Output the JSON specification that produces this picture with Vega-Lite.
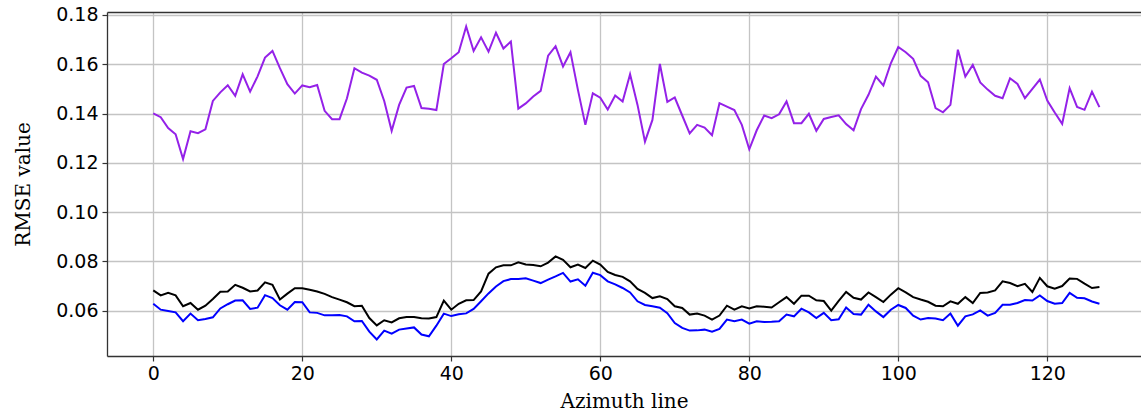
{
  "$schema": "https://vega.github.io/schema/vega-lite/v6.json",
  "width": 1034,
  "height": 344,
  "autosize": {"type": "none"},
  "padding": {"left": 107, "top": 12, "right": 0, "bottom": 59},
  "background": "white",
  "config": {"view": {"stroke": null}},
  "data": {"values": [
    {"azimuth":0,"purple":0.1401,"black":0.0682,"blue":0.0628},
    {"azimuth":1,"purple":0.1385,"black":0.0662,"blue":0.0604},
    {"azimuth":2,"purple":0.1341,"black":0.0672,"blue":0.0599},
    {"azimuth":3,"purple":0.1316,"black":0.0662,"blue":0.0593},
    {"azimuth":4,"purple":0.1215,"black":0.0618,"blue":0.0557},
    {"azimuth":5,"purple":0.1328,"black":0.0631,"blue":0.0588},
    {"azimuth":6,"purple":0.1320,"black":0.0604,"blue":0.0561},
    {"azimuth":7,"purple":0.1336,"black":0.0620,"blue":0.0566},
    {"azimuth":8,"purple":0.1451,"black":0.0647,"blue":0.0573},
    {"azimuth":9,"purple":0.1486,"black":0.0677,"blue":0.0609},
    {"azimuth":10,"purple":0.1515,"black":0.0678,"blue":0.0626},
    {"azimuth":11,"purple":0.1472,"black":0.0705,"blue":0.0641},
    {"azimuth":12,"purple":0.1559,"black":0.0693,"blue":0.0642},
    {"azimuth":13,"purple":0.1489,"black":0.0678,"blue":0.0607},
    {"azimuth":14,"purple":0.1551,"black":0.0682,"blue":0.0612},
    {"azimuth":15,"purple":0.1627,"black":0.0715,"blue":0.0663},
    {"azimuth":16,"purple":0.1654,"black":0.0705,"blue":0.0651},
    {"azimuth":17,"purple":0.1584,"black":0.0645,"blue":0.0622},
    {"azimuth":18,"purple":0.1519,"black":0.0669,"blue":0.0604},
    {"azimuth":19,"purple":0.1481,"black":0.0691,"blue":0.0635},
    {"azimuth":20,"purple":0.1514,"black":0.0691,"blue":0.0634},
    {"azimuth":21,"purple":0.1507,"black":0.0685,"blue":0.0593},
    {"azimuth":22,"purple":0.1516,"black":0.0678,"blue":0.0591},
    {"azimuth":23,"purple":0.1411,"black":0.0668,"blue":0.0581},
    {"azimuth":24,"purple":0.1377,"black":0.0655,"blue":0.0581},
    {"azimuth":25,"purple":0.1377,"black":0.0645,"blue":0.0582},
    {"azimuth":26,"purple":0.1462,"black":0.0634,"blue":0.0577},
    {"azimuth":27,"purple":0.1584,"black":0.0618,"blue":0.0557},
    {"azimuth":28,"purple":0.1566,"black":0.0620,"blue":0.0558},
    {"azimuth":29,"purple":0.1554,"black":0.0570,"blue":0.0515},
    {"azimuth":30,"purple":0.1537,"black":0.0540,"blue":0.0483},
    {"azimuth":31,"purple":0.1451,"black":0.0561,"blue":0.0519},
    {"azimuth":32,"purple":0.1330,"black":0.0552,"blue":0.0507},
    {"azimuth":33,"purple":0.1435,"black":0.0569,"blue":0.0523},
    {"azimuth":34,"purple":0.1505,"black":0.0574,"blue":0.0528},
    {"azimuth":35,"purple":0.1512,"black":0.0574,"blue":0.0532},
    {"azimuth":36,"purple":0.1422,"black":0.0569,"blue":0.0503},
    {"azimuth":37,"purple":0.1419,"black":0.0568,"blue":0.0496},
    {"azimuth":38,"purple":0.1414,"black":0.0574,"blue":0.0539},
    {"azimuth":39,"purple":0.1601,"black":0.0641,"blue":0.0588},
    {"azimuth":40,"purple":0.1624,"black":0.0604,"blue":0.0578},
    {"azimuth":41,"purple":0.1649,"black":0.0628,"blue":0.0585},
    {"azimuth":42,"purple":0.1753,"black":0.0642,"blue":0.0589},
    {"azimuth":43,"purple":0.1654,"black":0.0643,"blue":0.0607},
    {"azimuth":44,"purple":0.1709,"black":0.0678,"blue":0.0638},
    {"azimuth":45,"purple":0.1651,"black":0.0750,"blue":0.0670},
    {"azimuth":46,"purple":0.1728,"black":0.0776,"blue":0.0698},
    {"azimuth":47,"purple":0.1664,"black":0.0784,"blue":0.0720},
    {"azimuth":48,"purple":0.1692,"black":0.0784,"blue":0.0728},
    {"azimuth":49,"purple":0.1420,"black":0.0796,"blue":0.0728},
    {"azimuth":50,"purple":0.1441,"black":0.0787,"blue":0.0731},
    {"azimuth":51,"purple":0.1469,"black":0.0785,"blue":0.0722},
    {"azimuth":52,"purple":0.1492,"black":0.0780,"blue":0.0712},
    {"azimuth":53,"purple":0.1635,"black":0.0795,"blue":0.0726},
    {"azimuth":54,"purple":0.1673,"black":0.0820,"blue":0.0739},
    {"azimuth":55,"purple":0.1591,"black":0.0806,"blue":0.0753},
    {"azimuth":56,"purple":0.1649,"black":0.0776,"blue":0.0718},
    {"azimuth":57,"purple":0.1496,"black":0.0787,"blue":0.0727},
    {"azimuth":58,"purple":0.1354,"black":0.0773,"blue":0.0701},
    {"azimuth":59,"purple":0.1482,"black":0.0803,"blue":0.0754},
    {"azimuth":60,"purple":0.1464,"black":0.0787,"blue":0.0744},
    {"azimuth":61,"purple":0.1416,"black":0.0757,"blue":0.0719},
    {"azimuth":62,"purple":0.1473,"black":0.0745,"blue":0.0707},
    {"azimuth":63,"purple":0.1449,"black":0.0737,"blue":0.0692},
    {"azimuth":64,"purple":0.1559,"black":0.0719,"blue":0.0674},
    {"azimuth":65,"purple":0.1435,"black":0.0688,"blue":0.0638},
    {"azimuth":66,"purple":0.1286,"black":0.0672,"blue":0.0623},
    {"azimuth":67,"purple":0.1374,"black":0.0651,"blue":0.0618},
    {"azimuth":68,"purple":0.1601,"black":0.0658,"blue":0.0612},
    {"azimuth":69,"purple":0.1447,"black":0.0647,"blue":0.0590},
    {"azimuth":70,"purple":0.1465,"black":0.0618,"blue":0.0550},
    {"azimuth":71,"purple":0.1392,"black":0.0611,"blue":0.0530},
    {"azimuth":72,"purple":0.1319,"black":0.0584,"blue":0.0519},
    {"azimuth":73,"purple":0.1354,"black":0.0588,"blue":0.0520},
    {"azimuth":74,"purple":0.1343,"black":0.0580,"blue":0.0523},
    {"azimuth":75,"purple":0.1312,"black":0.0564,"blue":0.0515},
    {"azimuth":76,"purple":0.1442,"black":0.0580,"blue":0.0526},
    {"azimuth":77,"purple":0.1428,"black":0.0620,"blue":0.0564},
    {"azimuth":78,"purple":0.1414,"black":0.0604,"blue":0.0557},
    {"azimuth":79,"purple":0.1354,"black":0.0618,"blue":0.0564},
    {"azimuth":80,"purple":0.1255,"black":0.0609,"blue":0.0547},
    {"azimuth":81,"purple":0.1332,"black":0.0618,"blue":0.0557},
    {"azimuth":82,"purple":0.1392,"black":0.0616,"blue":0.0554},
    {"azimuth":83,"purple":0.1381,"black":0.0613,"blue":0.0555},
    {"azimuth":84,"purple":0.1397,"black":0.0634,"blue":0.0557},
    {"azimuth":85,"purple":0.1449,"black":0.0655,"blue":0.0584},
    {"azimuth":86,"purple":0.1361,"black":0.0628,"blue":0.0577},
    {"azimuth":87,"purple":0.1361,"black":0.0661,"blue":0.0608},
    {"azimuth":88,"purple":0.1399,"black":0.0661,"blue":0.0593},
    {"azimuth":89,"purple":0.1330,"black":0.0642,"blue":0.0570},
    {"azimuth":90,"purple":0.1378,"black":0.0639,"blue":0.0591},
    {"azimuth":91,"purple":0.1386,"black":0.0600,"blue":0.0561},
    {"azimuth":92,"purple":0.1393,"black":0.0640,"blue":0.0565},
    {"azimuth":93,"purple":0.1357,"black":0.0676,"blue":0.0613},
    {"azimuth":94,"purple":0.1332,"black":0.0652,"blue":0.0586},
    {"azimuth":95,"purple":0.1418,"black":0.0645,"blue":0.0584},
    {"azimuth":96,"purple":0.1476,"black":0.0674,"blue":0.0624},
    {"azimuth":97,"purple":0.1550,"black":0.0655,"blue":0.0597},
    {"azimuth":98,"purple":0.1514,"black":0.0635,"blue":0.0574},
    {"azimuth":99,"purple":0.1604,"black":0.0665,"blue":0.0604},
    {"azimuth":100,"purple":0.1670,"black":0.0691,"blue":0.0623},
    {"azimuth":101,"purple":0.1649,"black":0.0674,"blue":0.0611},
    {"azimuth":102,"purple":0.1622,"black":0.0655,"blue":0.0580},
    {"azimuth":103,"purple":0.1553,"black":0.0645,"blue":0.0564},
    {"azimuth":104,"purple":0.1527,"black":0.0636,"blue":0.0570},
    {"azimuth":105,"purple":0.1422,"black":0.0620,"blue":0.0568},
    {"azimuth":106,"purple":0.1405,"black":0.0618,"blue":0.0561},
    {"azimuth":107,"purple":0.1435,"black":0.0638,"blue":0.0588},
    {"azimuth":108,"purple":0.1659,"black":0.0628,"blue":0.0539},
    {"azimuth":109,"purple":0.1550,"black":0.0655,"blue":0.0577},
    {"azimuth":110,"purple":0.1597,"black":0.0631,"blue":0.0585},
    {"azimuth":111,"purple":0.1526,"black":0.0672,"blue":0.0601},
    {"azimuth":112,"purple":0.1497,"black":0.0674,"blue":0.0580},
    {"azimuth":113,"purple":0.1472,"black":0.0682,"blue":0.0591},
    {"azimuth":114,"purple":0.1462,"black":0.0719,"blue":0.0624},
    {"azimuth":115,"purple":0.1543,"black":0.0712,"blue":0.0624},
    {"azimuth":116,"purple":0.1520,"black":0.0699,"blue":0.0631},
    {"azimuth":117,"purple":0.1462,"black":0.0709,"blue":0.0643},
    {"azimuth":118,"purple":0.1500,"black":0.0676,"blue":0.0641},
    {"azimuth":119,"purple":0.1538,"black":0.0733,"blue":0.0662},
    {"azimuth":120,"purple":0.1453,"black":0.0699,"blue":0.0639},
    {"azimuth":121,"purple":0.1404,"black":0.0689,"blue":0.0628},
    {"azimuth":122,"purple":0.1358,"black":0.0700,"blue":0.0631},
    {"azimuth":123,"purple":0.1503,"black":0.0730,"blue":0.0672},
    {"azimuth":124,"purple":0.1427,"black":0.0729,"blue":0.0652},
    {"azimuth":125,"purple":0.1415,"black":0.0710,"blue":0.0650},
    {"azimuth":126,"purple":0.1489,"black":0.0692,"blue":0.0637},
    {"azimuth":127,"purple":0.1426,"black":0.0696,"blue":0.0628}
  ]},
  "transform": [{"fold": ["purple", "black", "blue"], "as": ["series", "rmse"]}],
  "layer": [
    {
      "mark": {"type": "line", "strokeWidth": 2},
      "encoding": {
        "x": {
          "field": "azimuth", "type": "quantitative",
          "scale": {"domain": [-6.21, 132.58], "nice": false, "zero": false},
          "axis": {
            "orient": "bottom", "values": [0, 20, 40, 60, 80, 100, 120], "format": "d",
            "title": "Azimuth line", "titleFont": "DejaVu Serif", "titleFontSize": 20, "titleFontWeight": "normal", "titleColor": "#000000", "titlePadding": 8,
            "labelFont": "DejaVu Sans", "labelFontSize": 19, "labelColor": "#000000", "labelPadding": 3,
            "tickSize": 5, "tickColor": "#333333", "tickWidth": 1.2,
            "domainColor": "#333333", "domainWidth": 1.3,
            "grid": true, "gridColor": "#c4c4c4", "gridWidth": 1.3
          }
        },
        "y": {
          "field": "rmse", "type": "quantitative",
          "scale": {"domain": [0.0416, 0.1812], "nice": false, "zero": false},
          "axis": {
            "orient": "left",
            "values": [0.06, 0.08, 0.10, 0.12, 0.14, 0.16, 0.18], "format": ".2f",
            "title": "RMSE value", "titleFont": "DejaVu Serif", "titleFontSize": 20, "titleFontWeight": "normal", "titleColor": "#000000", "titlePadding": 22,
            "labelFont": "DejaVu Sans", "labelFontSize": 19, "labelColor": "#000000", "labelPadding": 4,
            "tickSize": 5, "tickColor": "#333333", "tickWidth": 1.2,
            "domainColor": "#333333", "domainWidth": 1.3,
            "grid": true, "gridColor": "#c4c4c4", "gridWidth": 1.3
          }
        },
        "color": {
          "field": "series", "type": "nominal",
          "scale": {"domain": ["purple", "black", "blue"], "range": ["#9421e8", "#000000", "#0000ff"]},
          "legend": null
        }
      }
    },
    {
      "mark": {"type": "line", "opacity": 0},
      "encoding": {
        "x": {
          "field": "azimuth", "type": "quantitative",
          "axis": {"orient": "top", "labels": false, "ticks": false, "grid": false, "domain": true, "title": null, "domainColor": "#333333", "domainWidth": 1.3}
        },
        "y": {"field": "rmse", "type": "quantitative", "axis": null},
        "detail": {"field": "series", "type": "nominal"}
      }
    }
  ],
  "resolve": {"axis": {"x": "independent", "y": "independent"}}
}
